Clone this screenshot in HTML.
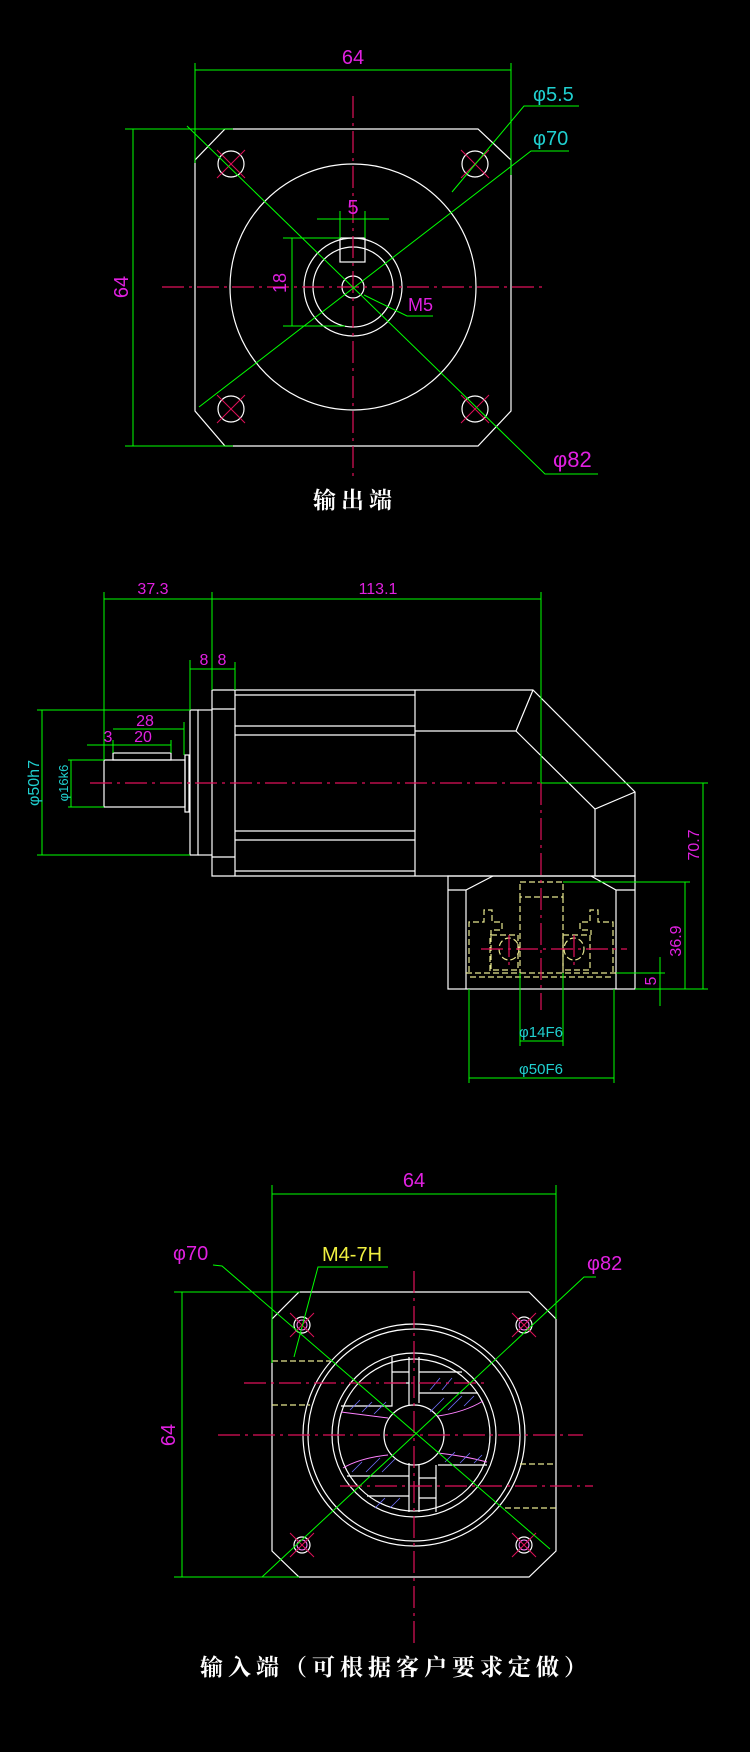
<!DOCTYPE html>
<html><head><meta charset="utf-8"><style>
html,body{margin:0;padding:0;background:#000}
svg{display:block}
text{font-family:"Liberation Sans",sans-serif}
.w{stroke:#fff;fill:none;stroke-width:1.2}
.g{stroke:#0f0;fill:none;stroke-width:1}
.r{stroke:#e0105a;fill:none;stroke-width:1.2;stroke-dasharray:22 5 3 5}
.y{stroke:#e8e890;fill:none;stroke-width:1.2;stroke-dasharray:6 3}
.m{fill:#e020e0}
.c{fill:#20d0d0}
.t{fill:#fff;font-family:"Liberation Serif","Noto Serif CJK SC","Noto Sans CJK SC",serif;font-weight:bold;font-size:23px;letter-spacing:5px}
</style></head><body>
<svg width="750" height="1752" viewBox="0 0 750 1752" xmlns="http://www.w3.org/2000/svg">
<rect width="750" height="1752" fill="#000"/>

<!-- ===== TOP VIEW (output end) ===== -->
<polygon class="w" points="225,129 478,129 511,160 511,411 478,446 225,446 195,411 195,160"/>
<circle class="w" cx="353" cy="287" r="123"/>
<circle class="w" cx="353" cy="287" r="49"/>
<circle class="w" cx="353" cy="287" r="40"/>
<circle class="w" cx="353" cy="287" r="11"/>
<rect class="w" x="340" y="238" width="25" height="24"/>
<g class="w">
<circle cx="231" cy="164" r="13"/><circle cx="475" cy="164" r="13"/>
<circle cx="231" cy="409" r="13"/><circle cx="475" cy="409" r="13"/>
</g>
<g stroke="#e0105a" stroke-width="1">
<line x1="217" y1="150" x2="245" y2="178"/><line x1="245" y1="150" x2="217" y2="178"/>
<line x1="461" y1="150" x2="489" y2="178"/><line x1="489" y1="150" x2="461" y2="178"/>
<line x1="217" y1="395" x2="245" y2="423"/><line x1="245" y1="395" x2="217" y2="423"/>
<line x1="461" y1="395" x2="489" y2="423"/><line x1="489" y1="395" x2="461" y2="423"/>
</g>
<line class="r" x1="162" y1="287" x2="545" y2="287"/>
<line class="r" x1="353" y1="96" x2="353" y2="479"/>
<!-- dims -->
<g class="g">
<line x1="195" y1="70" x2="511" y2="70"/>
<line x1="195" y1="63" x2="195" y2="163"/><line x1="511" y1="63" x2="511" y2="175"/>
<line x1="133" y1="129" x2="133" y2="446"/>
<line x1="125" y1="129" x2="233" y2="129"/><line x1="125" y1="446" x2="233" y2="446"/>
<line x1="317" y1="219" x2="389" y2="219"/>
<line x1="340" y1="211" x2="340" y2="238"/><line x1="365" y1="211" x2="365" y2="238"/>
<line x1="292" y1="238" x2="292" y2="326"/>
<line x1="283" y1="238" x2="340" y2="238"/><line x1="283" y1="326" x2="345" y2="326"/>
<polyline points="187,126 545,474 598,474"/>
<polyline points="199,407 531,151 569,151"/>
<polyline points="452,192 524,106 579,106"/>
<polyline points="364,295 407,316 433,316"/>
</g>
<text class="m" x="353" y="64" font-size="20" text-anchor="middle">64</text>
<text class="m" font-size="20" text-anchor="middle" transform="translate(128,287) rotate(-90)">64</text>
<text class="m" x="353" y="214" font-size="20" text-anchor="middle">5</text>
<text class="m" font-size="18" text-anchor="middle" transform="translate(286,283) rotate(-90)">18</text>
<text class="m" x="408" y="311" font-size="18">M5</text>
<text class="c" x="533" y="101" font-size="20">φ5.5</text>
<text class="c" x="533" y="145" font-size="20">φ70</text>
<text class="m" x="553" y="467" font-size="22">φ82</text>
<text class="t" x="355" y="508" text-anchor="middle">输出端</text>

<!-- ===== SIDE VIEW ===== -->
<g class="w">
<rect x="104" y="760" width="81" height="47"/>
<rect x="113" y="753" width="58" height="7"/>
<rect x="185" y="755" width="4" height="57"/>
<rect x="190" y="710" width="8" height="145"/>
<line x1="198" y1="710" x2="212" y2="710"/><line x1="198" y1="855" x2="212" y2="855"/>
<polyline points="212,690 533,690 635,792 635,876 212,876 212,690"/>
<line x1="212" y1="709" x2="235" y2="709"/><line x1="212" y1="857" x2="235" y2="857"/>
<line x1="235" y1="690" x2="235" y2="876"/>
<line x1="235" y1="695" x2="415" y2="695"/><line x1="235" y1="726" x2="415" y2="726"/><line x1="235" y1="735" x2="415" y2="735"/>
<line x1="235" y1="831" x2="415" y2="831"/><line x1="235" y1="840" x2="415" y2="840"/><line x1="235" y1="871" x2="415" y2="871"/>
<line x1="415" y1="690" x2="415" y2="876"/>
<polyline points="533,690 516,731 415,731"/>
<polyline points="516,731 595,809 635,792"/>
<line x1="595" y1="809" x2="595" y2="876"/>
<rect x="448" y="876" width="187" height="113"/>
<polyline points="493,876 466,890 448,890"/><polyline points="591,876 616,890 635,890"/>
<line x1="466" y1="890" x2="466" y2="989"/><line x1="616" y1="890" x2="616" y2="989"/>
</g>
<g class="y">
<rect x="520" y="882" width="43" height="15"/>
<polyline points="520,897 520,973"/><polyline points="563,897 563,973"/>
<path d="M469,972 L469,922 L484,922 L484,910 L492,910 L492,922 L502,922 L502,930 L491,930 L491,935 L490,935 L490,972"/>
<rect x="491" y="935" width="27" height="35"/>
<path d="M613,972 L613,922 L598,922 L598,910 L590,910 L590,922 L580,922 L580,930 L591,930 L591,935"/>
<rect x="563" y="935" width="27" height="35"/>
<ellipse cx="509" cy="949" rx="10" ry="11"/><ellipse cx="574" cy="949" rx="10" ry="11"/>
<line x1="466" y1="973" x2="616" y2="973"/><line x1="470" y1="977" x2="612" y2="977"/>
</g>
<line class="r" x1="90" y1="783" x2="541" y2="783"/>
<line class="r" x1="541" y1="783" x2="541" y2="1010"/>
<line class="r" x1="481" y1="949" x2="627" y2="949"/>
<line class="r" x1="509" y1="935" x2="509" y2="965"/><line class="r" x1="574" y1="935" x2="574" y2="965"/>
<g class="g">
<line x1="104" y1="599" x2="541" y2="599"/>
<line x1="104" y1="592" x2="104" y2="760"/><line x1="212" y1="592" x2="212" y2="690"/><line x1="541" y1="592" x2="541" y2="783"/>
<line x1="190" y1="669" x2="235" y2="669"/>
<line x1="190" y1="660" x2="190" y2="710"/><line x1="235" y1="662" x2="235" y2="690"/>
<line x1="42" y1="710" x2="42" y2="855"/>
<line x1="37" y1="710" x2="190" y2="710"/><line x1="37" y1="855" x2="190" y2="855"/>
<line x1="71" y1="760" x2="71" y2="807"/>
<line x1="68" y1="760" x2="104" y2="760"/><line x1="68" y1="807" x2="104" y2="807"/>
<line x1="113" y1="729" x2="184" y2="729"/><line x1="184" y1="722" x2="184" y2="755"/>
<line x1="87" y1="745" x2="171" y2="745"/><line x1="171" y1="740" x2="171" y2="753"/><line x1="113" y1="740" x2="113" y2="753"/>
<line x1="541" y1="783" x2="708" y2="783"/><line x1="635" y1="989" x2="708" y2="989"/>
<line x1="703" y1="783" x2="703" y2="989"/>
<line x1="563" y1="882" x2="690" y2="882"/><line x1="685" y1="882" x2="685" y2="989"/>
<line x1="616" y1="973" x2="665" y2="973"/><line x1="660" y1="957" x2="660" y2="1006"/>
<line x1="520" y1="973" x2="520" y2="1046"/><line x1="563" y1="973" x2="563" y2="1046"/>
<line x1="520" y1="1041" x2="563" y2="1041"/>
<line x1="469" y1="989" x2="469" y2="1083"/><line x1="614" y1="989" x2="614" y2="1083"/>
<line x1="469" y1="1078" x2="614" y2="1078"/>
</g>
<g font-size="16">
<text class="m" x="153" y="594" text-anchor="middle" transform="translate(153,0) scale(0,1)"></text>
<text class="m" x="153" y="594" text-anchor="middle">37.3</text>
<text class="m" x="378" y="594" text-anchor="middle">113.1</text>
<text class="m" x="204" y="665" text-anchor="middle">8</text>
<text class="m" x="222" y="665" text-anchor="middle">8</text>
<text class="m" x="145" y="726" text-anchor="middle">28</text>
<text class="m" x="143" y="742" text-anchor="middle">20</text>
<text class="m" x="108" y="742" text-anchor="middle">3</text>
<text class="c" text-anchor="middle" transform="translate(39,783) rotate(-90)">φ50h7</text>
<text class="c" font-size="13" text-anchor="middle" transform="translate(68,783) rotate(-90)">φ16k6</text>
<text class="m" text-anchor="middle" transform="translate(699,845) rotate(-90)">70.7</text>
<text class="m" text-anchor="middle" transform="translate(681,941) rotate(-90)">36.9</text>
<text class="m" text-anchor="middle" transform="translate(656,981) rotate(-90)">5</text>
<text class="c" x="541" y="1037" text-anchor="middle" font-size="15">φ14F6</text>
<text class="c" x="541" y="1074" text-anchor="middle" font-size="15">φ50F6</text>
</g>

<!-- ===== BOTTOM VIEW (input end) ===== -->
<polygon class="w" points="299,1292 529,1292 556,1319 556,1551 529,1577 299,1577 272,1551 272,1319"/>
<g class="w">
<circle cx="414" cy="1435" r="111"/><circle cx="414" cy="1435" r="106"/>
<circle cx="414" cy="1435" r="82"/><circle cx="414" cy="1435" r="76"/>
<circle cx="414" cy="1435" r="30"/>
<circle cx="302" cy="1325" r="8"/><circle cx="524" cy="1325" r="8"/>
<circle cx="302" cy="1545" r="8"/><circle cx="524" cy="1545" r="8"/>
<polyline points="392,1357 392,1406 341,1406"/><line x1="409" y1="1357" x2="409" y2="1405"/>
<line x1="392" y1="1372" x2="409" y2="1372"/><line x1="392" y1="1383" x2="409" y2="1383"/>
<line x1="419" y1="1357" x2="419" y2="1403"/>
<line x1="419" y1="1372" x2="462" y2="1372"/><line x1="419" y1="1393" x2="478" y2="1393"/>
<line x1="409" y1="1463" x2="409" y2="1512"/><line x1="347" y1="1476" x2="409" y2="1476"/><line x1="367" y1="1496" x2="409" y2="1496"/>
<line x1="419" y1="1465" x2="419" y2="1512"/><line x1="436" y1="1465" x2="436" y2="1512"/>
<line x1="438" y1="1465" x2="487" y2="1465"/>
<line x1="419" y1="1478" x2="436" y2="1478"/><line x1="419" y1="1498" x2="436" y2="1498"/>
</g>
<g stroke="#ff80ff" fill="none" stroke-width="1">
<circle cx="302" cy="1325" r="5"/><circle cx="524" cy="1325" r="5"/>
<circle cx="302" cy="1545" r="5"/><circle cx="524" cy="1545" r="5"/>
<path d="M341,1412 Q365,1415 388,1418"/><path d="M438,1416 Q465,1412 483,1401"/>
<path d="M343,1468 Q360,1458 388,1455"/><path d="M438,1453 Q465,1456 487,1462"/>
</g>
<g stroke="#7070ff" stroke-width="0.8">
<line x1="350" y1="1410" x2="360" y2="1400"/><line x1="362" y1="1412" x2="372" y2="1402"/><line x1="374" y1="1414" x2="386" y2="1402"/>
<line x1="430" y1="1390" x2="440" y2="1378"/><line x1="442" y1="1390" x2="452" y2="1378"/><line x1="430" y1="1412" x2="444" y2="1398"/><line x1="448" y1="1410" x2="462" y2="1396"/><line x1="464" y1="1406" x2="474" y2="1396"/>
<line x1="352" y1="1472" x2="362" y2="1462"/><line x1="366" y1="1472" x2="380" y2="1458"/><line x1="382" y1="1472" x2="395" y2="1459"/><line x1="375" y1="1508" x2="385" y2="1498"/><line x1="390" y1="1508" x2="400" y2="1498"/>
<line x1="445" y1="1462" x2="455" y2="1452"/><line x1="460" y1="1463" x2="470" y2="1453"/><line x1="474" y1="1463" x2="482" y2="1455"/>
</g>
<g stroke="#e0105a" stroke-width="1">
<line x1="290" y1="1313" x2="314" y2="1337"/><line x1="314" y1="1313" x2="290" y2="1337"/>
<line x1="512" y1="1313" x2="536" y2="1337"/><line x1="536" y1="1313" x2="512" y2="1337"/>
<line x1="290" y1="1533" x2="314" y2="1557"/><line x1="314" y1="1533" x2="290" y2="1557"/>
<line x1="512" y1="1533" x2="536" y2="1557"/><line x1="536" y1="1533" x2="512" y2="1557"/>
</g>
<line class="r" x1="218" y1="1435" x2="583" y2="1435"/>
<line class="r" x1="414" y1="1271" x2="414" y2="1643"/>
<line class="r" x1="244" y1="1383" x2="488" y2="1383"/>
<line class="r" x1="340" y1="1486" x2="593" y2="1486"/>
<g class="y">
<line x1="272" y1="1361" x2="330" y2="1361"/><line x1="272" y1="1405" x2="310" y2="1405"/>
<line x1="520" y1="1464" x2="556" y2="1464"/><line x1="505" y1="1508" x2="556" y2="1508"/>
</g>
<g class="g">
<line x1="272" y1="1194" x2="556" y2="1194"/>
<line x1="272" y1="1185" x2="272" y2="1363"/><line x1="556" y1="1185" x2="556" y2="1319"/>
<line x1="182" y1="1292" x2="182" y2="1577"/>
<line x1="174" y1="1292" x2="300" y2="1292"/><line x1="174" y1="1577" x2="299" y2="1577"/>
<polyline points="213,1265 222,1266 550,1549"/>
<polyline points="596,1277 584,1277 262,1577"/>
<polyline points="388,1267 318,1267 294,1357"/>
</g>
<text class="m" x="414" y="1187" font-size="20" text-anchor="middle">64</text>
<text class="m" font-size="20" text-anchor="middle" transform="translate(175,1435) rotate(-90)">64</text>
<text class="m" x="173" y="1260" font-size="20">φ70</text>
<text x="322" y="1261" font-size="20" fill="#f0f040">M4-7H</text>
<text class="m" x="587" y="1270" font-size="20">φ82</text>
<text class="t" x="396" y="1675" text-anchor="middle">输入端（可根据客户要求定做）</text>
</svg>
</body></html>
